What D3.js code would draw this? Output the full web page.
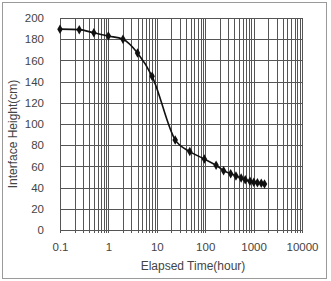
<!DOCTYPE html>
<html>
<head>
<meta charset="utf-8">
<script src="https://cdn.jsdelivr.net/npm/d3@7"></script>
<style>
  body { margin: 0; background: #fff; }
  text { font-family: "Liberation Sans", Arial, sans-serif; fill: #444; }
</style>
</head>
<body>
<div class="chart"></div>
<script>
var svgWidth = 331;
var svgHeight = 281;

// data
var hours = [0.1, 0.25, 0.5, 1, 2, 4, 8, 24, 48, 96, 168, 240, 336, 432, 552, 672, 840, 1008, 1200, 1440, 1680];
var heights = [189.5, 189, 186, 183, 180, 167, 145, 85, 74, 67, 61, 56, 53, 51, 49, 47.5, 46, 45, 44.5, 44, 43.5];
var xTicks = [0.1, 1, 10, 100, 1000, 10000];
var yTicks = [0, 20, 40, 60, 80, 100, 120, 140, 160, 180, 200];

var margin = { top: 18, right: 29, bottom: 51, left: 60 };
var width = svgWidth - margin.left - margin.right;
var height = svgHeight - margin.top - margin.bottom;

var svg = d3.select(".chart")
  .append("svg")
  .attr("width", svgWidth)
  .attr("height", svgHeight);

// outer frame
svg.append("rect")
  .attr("x", 2.5).attr("y", 2.5)
  .attr("width", 324).attr("height", 276)
  .attr("fill", "#fff")
  .attr("stroke", "#9a9a9a");

var chart = svg.append("g")
  .attr("transform", "translate(" + margin.left + "," + margin.top + ")");

var xScale = d3.scaleLog().domain([0.1, 10000]).range([0, width]);
var yScale = d3.scaleLinear().domain([0, 200]).range([height, 0]);

// vertical grid: every 1..9 of each decade
var gridX = [];
for (var d = -1; d < 4; d++) {
  for (var k = 1; k < 10; k++) gridX.push(k * Math.pow(10, d));
}
gridX.push(10000);

chart.selectAll(".vgrid")
  .data(gridX)
  .enter().append("line")
    .attr("class", "vgrid")
    .attr("x1", function(v) { return Math.round(xScale(v)) + 0.5; })
    .attr("x2", function(v) { return Math.round(xScale(v)) + 0.5; })
    .attr("y1", 0)
    .attr("y2", height + 3)
    .attr("stroke", "#555")
    .attr("stroke-width", 1);

chart.selectAll(".hgrid")
  .data(yTicks)
  .enter().append("line")
    .attr("class", "hgrid")
    .attr("x1", 0)
    .attr("x2", width)
    .attr("y1", function(v) { return Math.round(yScale(v)) + 0.5; })
    .attr("y2", function(v) { return Math.round(yScale(v)) + 0.5; })
    .attr("stroke", "#555")
    .attr("stroke-width", 1);

// axes (labels only)
var bottomAxis = d3.axisBottom(xScale)
  .tickValues(xTicks)
  .tickSize(0)
  .tickPadding(0)
  .tickFormat(function(v) { return v < 1 ? "0.1" : String(v); });

var leftAxis = d3.axisLeft(yScale)
  .tickValues(yTicks)
  .tickSize(0)
  .tickPadding(16);

chart.append("g")
  .attr("transform", "translate(0," + (height + 13) + ")")
  .call(bottomAxis)
  .call(function(g) { g.select(".domain").remove(); })
  .selectAll("text")
    .style("font-size", "11.5px")
    .attr("fill", "#444");

chart.append("g")
  .call(leftAxis)
  .call(function(g) { g.select(".domain").remove(); })
  .selectAll("text")
    .style("font-size", "11.5px")
    .attr("fill", "#444");

// curve
var line = d3.line()
  .x(function(d, i) { return xScale(hours[i]); })
  .y(function(d) { return yScale(d); })
  .curve(d3.curveMonotoneX);

chart.append("path")
  .datum(heights)
  .attr("d", line)
  .attr("fill", "none")
  .attr("stroke", "#111")
  .attr("stroke-width", 1.6);

chart.selectAll(".pt")
  .data(heights)
  .enter().append("path")
    .attr("class", "pt")
    .attr("d", d3.symbol().type(d3.symbolDiamond).size(26))
    .attr("transform", function(d, i) {
      return "translate(" + xScale(hours[i]) + "," + yScale(d) + ")";
    })
    .attr("fill", "#111");

// axis titles
svg.append("text")
  .attr("transform", "translate(" + 13 + "," + 134 + ") rotate(-90)")
  .attr("text-anchor", "middle")
  .attr("dy", "0.35em")
  .style("font-size", "12px")
  .text("Interface  Height(cm)");

svg.append("text")
  .attr("x", 193)
  .attr("y", 266)
  .attr("text-anchor", "middle")
  .attr("dy", "0.35em")
  .style("font-size", "12px")
  .text("Elapsed  Time(hour)");
</script>
</body>
</html>
